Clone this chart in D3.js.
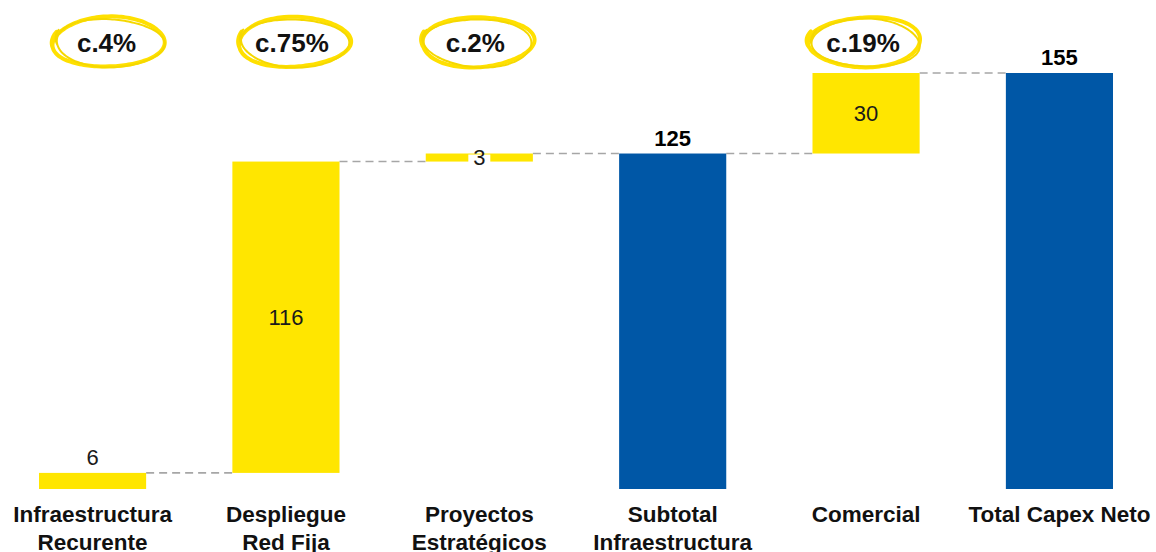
<!DOCTYPE html>
<html><head><meta charset="utf-8">
<script src="https://cdn.jsdelivr.net/npm/d3@7"></script>
<style>html,body{margin:0;padding:0;background:#fff;}svg{display:block;}</style>
</head><body>
<svg id="c" width="1156" height="552"></svg>
<script>
const categories = [["Infraestructura","Recurente"],["Despliegue","Red Fija"],["Proyectos","Estratégicos"],["Subtotal","Infraestructura"],["Comercial"],["Total Capex Neto"]];
const values = [6, 116, 3, 125, 30, 155];
const isTotal = [false, false, false, true, false, true];
const shares = ["c.4%", "c.75%", "c.2%", null, "c.19%", null];

const W = 1156, H = 552;
const svg = d3.select("#c");
const YEL = "#FFE600", BLUE = "#0057A6";

const x = d3.scaleBand().domain(d3.range(values.length)).range([39, 1113]).paddingInner(0.446).paddingOuter(0);
const y = d3.scaleLinear().domain([0, 155]).range([489, 73]);

// compute waterfall
let run = 0;
const bars = values.map((v, i) => {
  let lo, hi;
  if (isTotal[i]) { lo = 0; hi = v; run = v; }
  else { lo = run; hi = run + v; run = hi; }
  return {i, v, lo, hi, total: isTotal[i]};
});

// connectors
const conn = svg.append("g");
for (let i = 0; i < bars.length - 1; i++) {
  const lvl = bars[i].hi;
  conn.append("line")
    .attr("x1", x(i) + x.bandwidth()).attr("x2", x(i + 1))
    .attr("y1", y(lvl)).attr("y2", y(lvl))
    .attr("stroke", "#a6a6a6").attr("stroke-width", 1.6)
    .attr("stroke-dasharray", "8,5");
}

// bars
svg.append("g").selectAll("rect").data(bars).join("rect")
  .attr("x", d => x(d.i)).attr("width", x.bandwidth())
  .attr("y", d => y(d.hi)).attr("height", d => y(d.lo) - y(d.hi))
  .attr("fill", d => d.total ? BLUE : YEL);

// value labels
const lab = svg.append("g").attr("font-family", "Liberation Sans, Arial, sans-serif");
bars.forEach(d => {
  const cx = x(d.i) + x.bandwidth() / 2;
  const h = y(d.lo) - y(d.hi);
  if (d.total) {
    lab.append("text").attr("x", cx).attr("y", y(d.hi) - 8)
      .attr("text-anchor", "middle").attr("font-size", 22).attr("font-weight", "bold")
      .attr("fill", "#000").text(d.v);
  } else if (h > 40) {
    lab.append("text").attr("x", cx).attr("y", (y(d.lo) + y(d.hi)) / 2)
      .attr("dy", "0.36em").attr("text-anchor", "middle").attr("font-size", 22)
      .attr("fill", "#1a1a1a").text(d.v);
  } else if (h > 12) {
    lab.append("text").attr("x", cx).attr("y", y(d.hi) - 8)
      .attr("text-anchor", "middle").attr("font-size", 22)
      .attr("fill", "#1a1a1a").text(d.v);
  } else {
    const my = (y(d.lo) + y(d.hi)) / 2;
    lab.append("rect").attr("x", cx - 11).attr("y", my - 3).attr("width", 22).attr("height", 10).attr("fill", "#fff");
    lab.append("text").attr("x", cx).attr("y", my)
      .attr("dy", "0.36em").attr("text-anchor", "middle").attr("font-size", 22)
      .attr("fill", "#1a1a1a").text(d.v);
  }
});

// category labels
const cat = svg.append("g").attr("font-family", "Liberation Sans, Arial, sans-serif")
  .attr("font-weight", "bold").attr("font-size", 22.5).attr("fill", "#111");
categories.forEach((lines, i) => {
  const t = cat.append("text").attr("x", x(i) + x.bandwidth() / 2).attr("y", 522).attr("text-anchor", "middle");
  lines.forEach((s, k) => t.append("tspan").attr("x", x(i) + x.bandwidth() / 2).attr("dy", k ? 28 : 0).text(s));
});

// share annotations with hand-drawn ellipses
const dxAnn = [16, 8, -2, 0, -1, 0];
const ann = svg.append("g");
function roughEllipse(cx, cy, rx, ry, rot, phase) {
  const pts = [];
  const n = 80;
  for (let k = 0; k <= n + 8; k++) {
    const t = (k / n) * Math.PI * 2 + Math.PI * 0.95;
    const w = 1 + 0.025 * Math.sin(3 * t + phase) + (k > n ? 0.06 * (k - n) / 8 : 0);
    const ex = rx * w * Math.cos(t), ey = ry * w * Math.sin(t);
    pts.push([cx + ex * Math.cos(rot) - ey * Math.sin(rot), cy + ex * Math.sin(rot) + ey * Math.cos(rot)]);
  }
  return d3.line().curve(d3.curveCatmullRom)(pts);
}
shares.forEach((s, i) => {
  if (!s) return;
  const cx = x(i) + x.bandwidth() / 2 + dxAnn[i];
  const cy = 42;
  ann.append("path").attr("d", roughEllipse(cx, cy, 56, 25, -0.03, i))
    .attr("fill", "none").attr("stroke", "#FFE000").attr("stroke-width", 4).attr("stroke-linecap", "round");
  ann.append("path").attr("d", roughEllipse(cx + 1, cy + 1, 54, 24, 0.03, i + 2))
    .attr("fill", "none").attr("stroke", "#F5D800").attr("stroke-width", 2).attr("stroke-linecap", "round");
  ann.append("text").attr("x", cx - 2).attr("y", cy + 10)
    .attr("text-anchor", "middle").attr("font-family", "Liberation Sans, Arial, sans-serif")
    .attr("font-weight", "bold").attr("font-size", 26).attr("fill", "#111").text(s);
});
</script>
</body></html>
